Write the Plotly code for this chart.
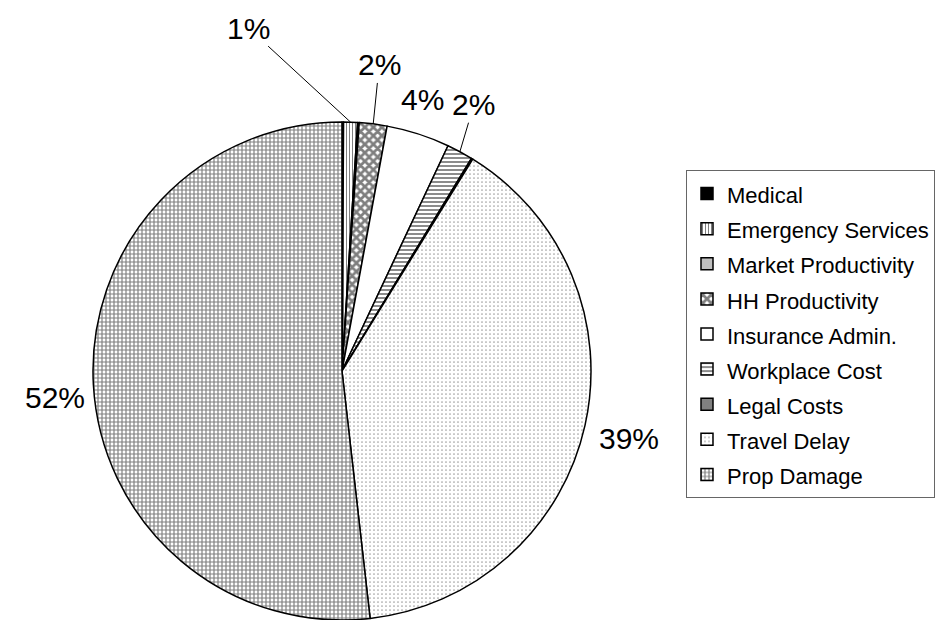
import math
import plotly.graph_objects as go

# ---- data ----
categories = ["Medical", "Emergency Services", "Market Productivity", "HH Productivity",
              "Insurance Admin.", "Workplace Cost", "Legal Costs", "Travel Delay", "Prop Damage"]
values = [0.1, 0.9, 0.1, 1.8, 4.1, 1.7, 0.1, 39.4, 51.8]
show_label = [False, True, False, True, True, True, False, True, True]

# ---- styling ----
W, H = 936, 620
colors = ["#000000", "#ffffff", "#c0c0c0", "#ffffff", "#ffffff", "#ffffff", "#808080", "#ffffff", "#ffffff"]
shapes = ["", "|", "", "x", "", "-", "", ".", "+"]
pat_sizes = [4, 3, 4, 6, 4, 4, 4, 4, 4]
pat_solid = [0.3, 0.35, 0.3, 0.7, 0.3, 0.45, 0.3, 0.15, 0.5]
pat_fg = ["#000000", "#000000", "#000000", "#000000", "#000000", "#000000", "#000000", "#444444", "#000000"]
# label offsets (pixels, text center relative to slice edge midpoint) and leader visibility
label_offsets = {1: (-102, -94, True), 3: (6, -59, True), 4: (4, -34, False),
                 5: (14, -47, True), 7: (44, 13, False), 8: (-38, 12, False)}

dom_x = [93 / W, 591 / W]
dom_y = [0.0, (H - 122) / H]

font_family = "Arial, Liberation Sans, sans-serif"
legend_labels = [f'<span style="font-size:22px">{c}</span>' for c in categories]

fig = go.Figure(go.Pie(
    labels=legend_labels,
    values=values,
    sort=False,
    direction="clockwise",
    rotation=0,
    textinfo="none",
    hoverinfo="label+percent",
    domain=dict(x=dom_x, y=dom_y),
    marker=dict(
        colors=colors,
        line=dict(color="#000000", width=1.5),
        pattern=dict(shape=shapes, size=pat_sizes, solidity=pat_solid,
                     fgcolor=pat_fg, bgcolor=colors, fillmode="overlay"),
    ),
))

# compute label annotations from the data
total = sum(values)
cx_px = (dom_x[0] + dom_x[1]) / 2 * W
cy_px = H - (dom_y[0] + dom_y[1]) / 2 * H
r_px = min((dom_x[1] - dom_x[0]) * W, (dom_y[1] - dom_y[0]) * H) / 2
cum = 0.0
annotations = []
for i, v in enumerate(values):
    mid = (cum + v / 2) / total * 2 * math.pi
    cum += v
    if not show_label[i]:
        continue
    px = cx_px + r_px * math.sin(mid)
    py = cy_px - r_px * math.cos(mid)
    ax, ay, leader = label_offsets[i]
    annotations.append(dict(
        x=px / W, y=1 - py / H, xref="paper", yref="paper",
        text=f"{round(v / total * 100)}%",
        showarrow=True, ax=ax, ay=ay, axref="pixel", ayref="pixel",
        arrowhead=0, arrowwidth=1, standoff=0, startstandoff=0,
        arrowcolor="#000000" if leader else "rgba(0,0,0,0)",
        font=dict(size=30, color="#000000", family=font_family),
    ))

fig.update_layout(
    width=W, height=H,
    margin=dict(l=0, r=0, t=0, b=0, autoexpand=False),
    paper_bgcolor="#ffffff",
    plot_bgcolor="#ffffff",
    font=dict(family=font_family, color="#000000"),
    annotations=annotations,
    showlegend=True,
    legend=dict(
        x=686 / W, xanchor="left", y=(H - 170) / H, yanchor="top",
        font=dict(size=24.7, color="#000000", family=font_family),
        bordercolor="#666666", borderwidth=1, bgcolor="#ffffff",
        traceorder="normal",
    ),
)

fig.write_html("out.html", config={"displayModeBar": False},
               post_script="document.body.style.margin='0';document.body.style.overflow='hidden';")
